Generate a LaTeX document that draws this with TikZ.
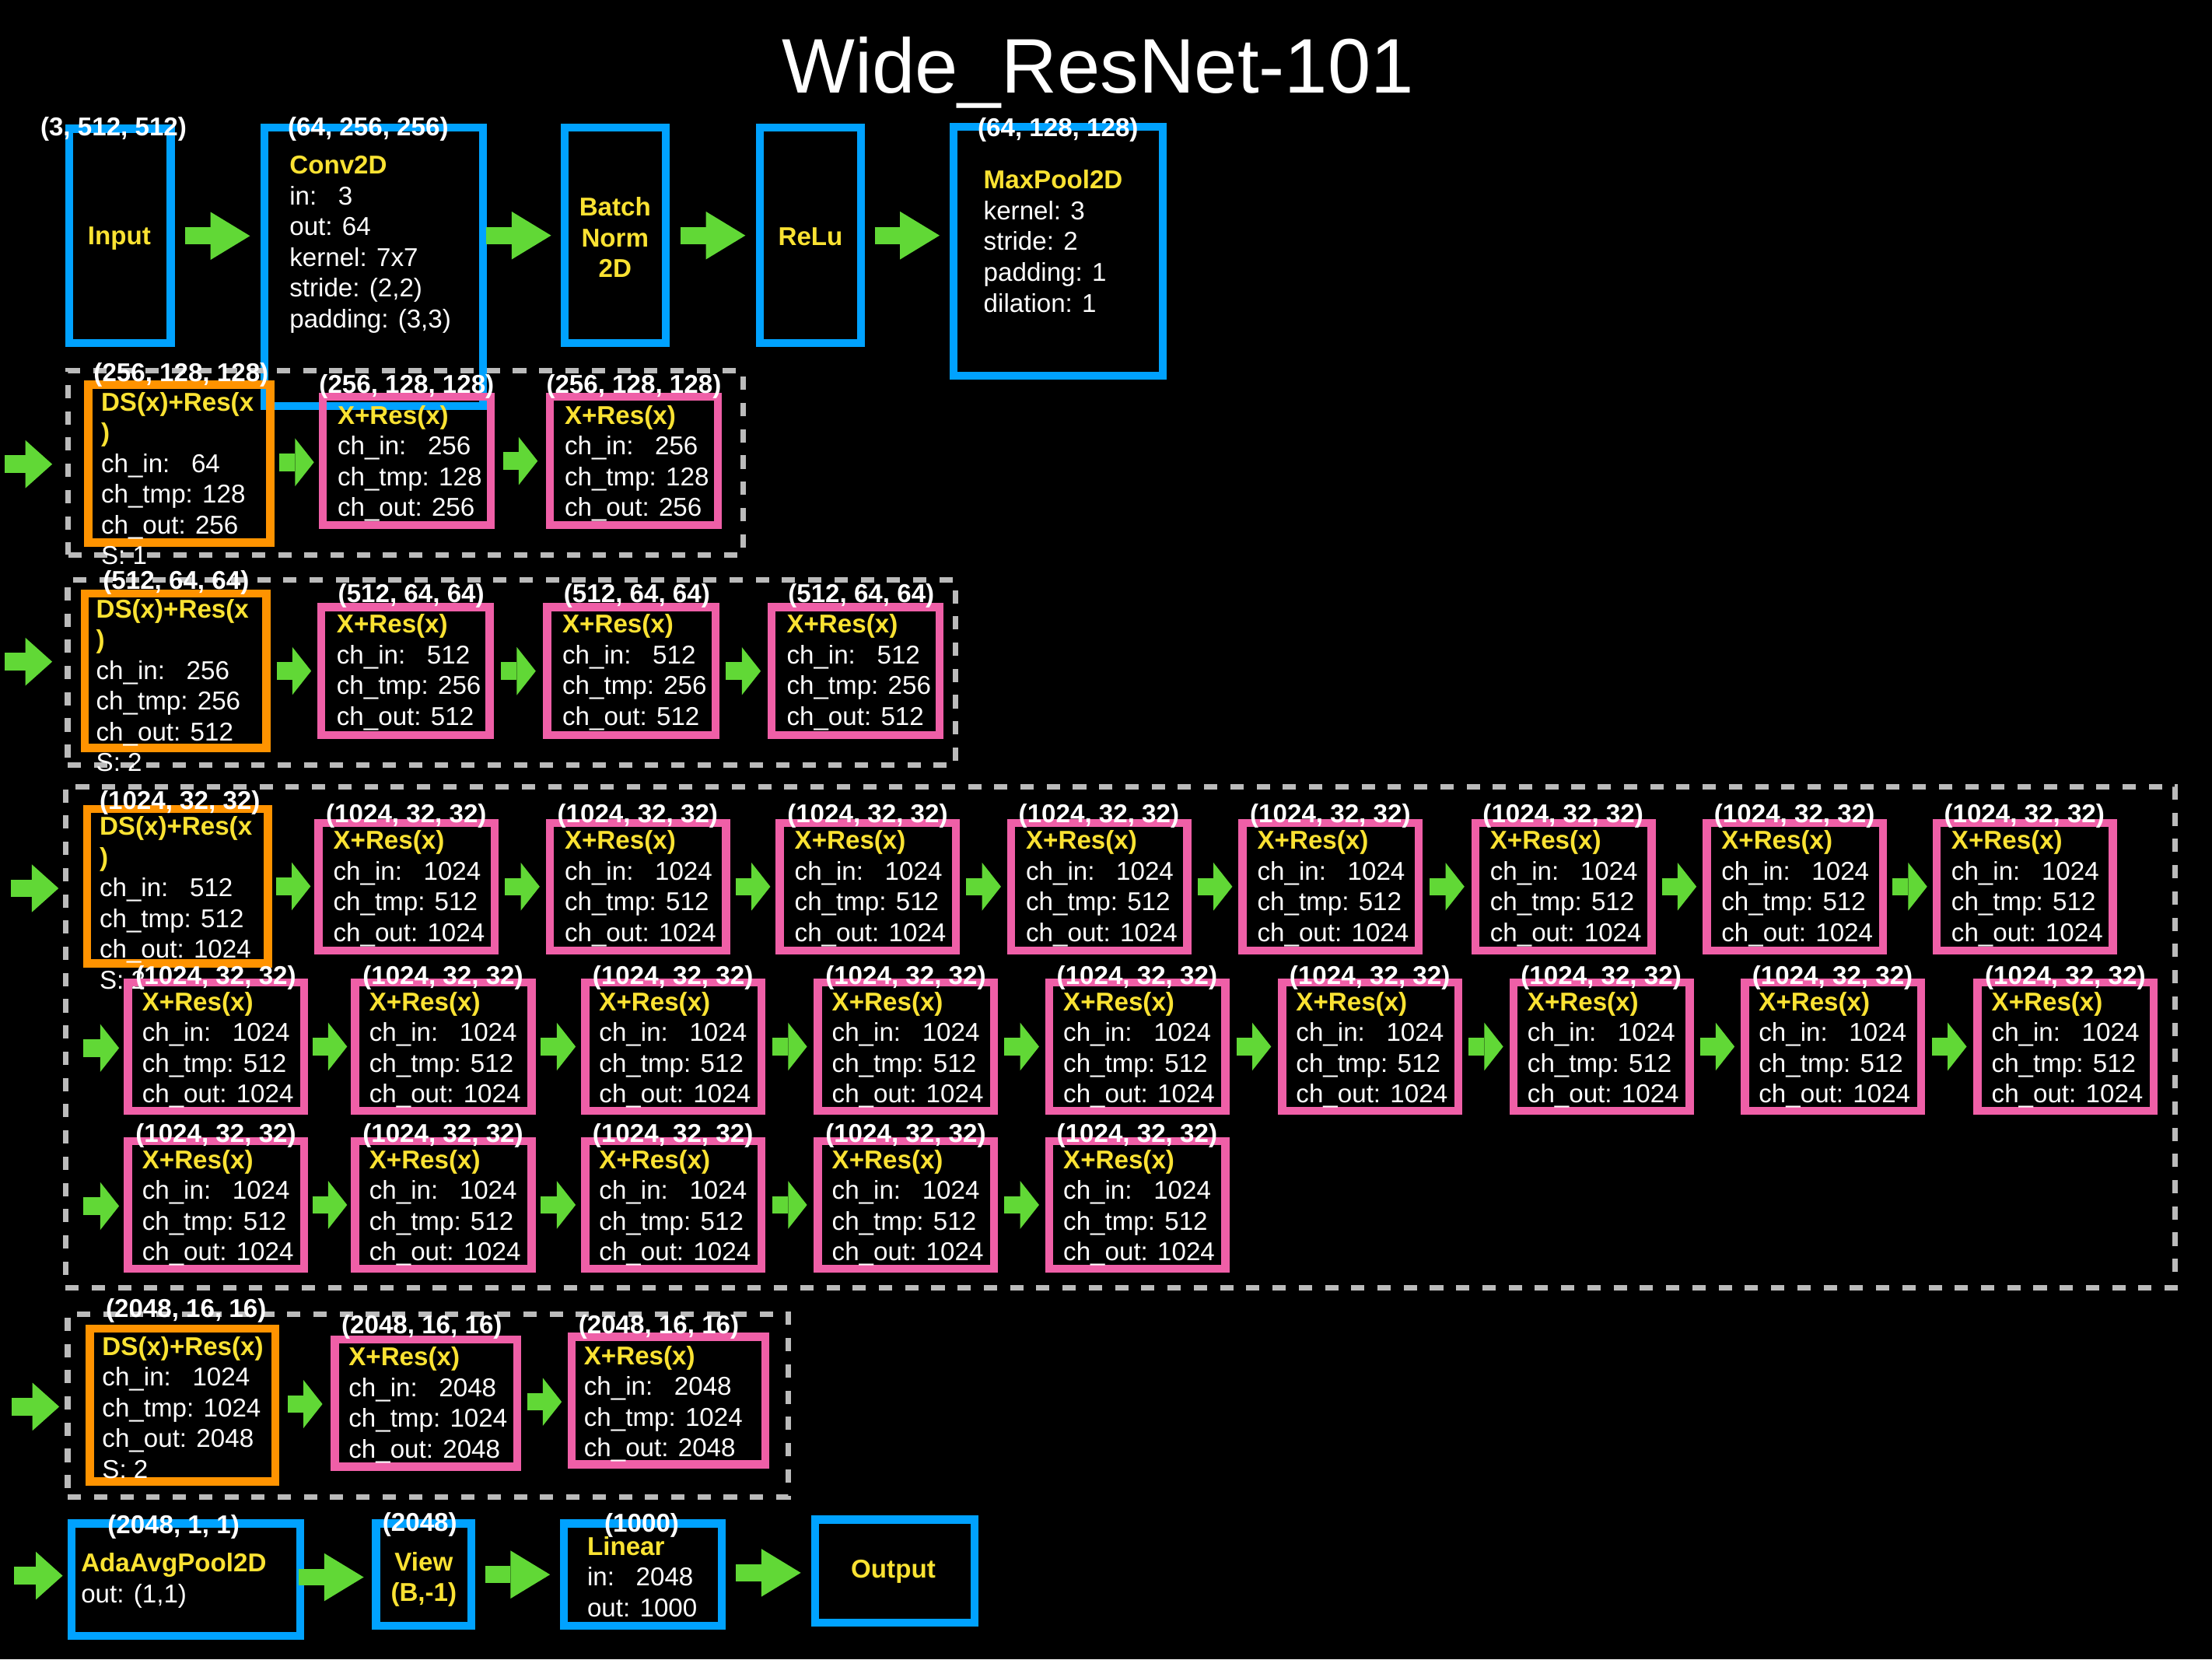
\documentclass[tikz,border=0pt]{standalone}
\usepackage{fontspec}
\setmainfont{Liberation Sans}
\usetikzlibrary{arrows.meta,calc,fit}

\definecolor{boxblue}{HTML}{00A2FF}
\definecolor{respink}{HTML}{EF5FA7}
\definecolor{dsorange}{HTML}{FF9300}
\definecolor{headyellow}{HTML}{FAE232}
\definecolor{flowgreen}{HTML}{61D836}
\definecolor{framegray}{HTML}{BBBBBB}

\newcommand{\yhead}[1]{\textcolor{headyellow}{\bfseries #1}}

\tikzset{
  blk/.style={draw=boxblue, line width=1.4mm, inner sep=0pt},
  resbox/.style={draw=respink, line width=1.45mm, inner sep=0pt},
  dsbox/.style={draw=dsorange, line width=1.45mm, inner sep=0pt},
  stageframe/.style={draw=framegray, line width=1mm, dash pattern=on 2.35mm off 2.3mm, inner sep=0pt},
  body/.style={text=white, font=\fontsize{13}{15.5}\selectfont, inner sep=0pt,
    align=left, anchor=north west, yshift=-0.75mm, execute at begin node=\strut},
  bodyc/.style={body, align=center, anchor=north, text=headyellow,
    font=\fontsize{13}{15.5}\selectfont\bfseries},
  shp/.style={text=white, font=\fontsize{13}{15.5}\selectfont\bfseries, inner sep=0pt, anchor=base},
  opname/.style={shp, text=headyellow},
  bigarrow/.style={flowgreen, line width=3mm, -{Triangle[length=7mm, width=8.5mm, line width=0pt]}},
  smallarrow/.style={flowgreen, line width=3.1mm, -{Triangle[length=3.35mm, width=8.5mm, line width=0pt]}},
  leftarrow/.style={flowgreen, line width=3.1mm, -{Triangle[length=4.75mm, width=8.5mm, line width=0pt]}}
}

\begin{document}
\begin{tikzpicture}[x=0.25mm, y=-0.25mm]
\useasboundingbox (0,0) rectangle (1568,1176);
\fill[black] (0,0) rectangle (1568,1176);
\node[text=white, font=\fontsize{39}{44}\selectfont, inner sep=0pt, anchor=base] (title) at (778.3,66) {Wide\_ResNet-101};

% stem
\node[blk, fit={(49.2,91.2) (121,243.2)}] (in) {};
\node[blk, fit={(187.4,90.6) (342.2,288)}] (conv) {};
\node[blk, fit={(400.1,90.6) (471.9,243.2)}] (bn) {};
\node[blk, fit={(538.8,90.6) (610.2,243.2)}] (relu) {};
\node[blk, fit={(675.8,89.7) (824.2,266.2)}] (pool) {};
\node[shp] at (80.5,96) {(3, 512, 512)};
\node[opname] at (84.6,173.5) {Input};
\node[shp] at (261,96) {(64, 256, 256)};
\node[body] at (205,107.3) {\yhead{Conv2D}\\in:\ \ \ 3\\out: 64\\kernel: 7x7\\stride: (2,2)\\padding: (3,3)};
\node[bodyc] at (436,136.6) {Batch\\Norm\\2D};
\node[opname] at (574.5,174) {ReLu};
\node[shp] at (750,96.9) {(64, 128, 128)};
\node[body] at (697,117.4) {\yhead{MaxPool2D}\\kernel: 3\\stride: 2\\padding: 1\\dilation: 1};

% dashed stage frames
\node[stageframe, fit={(48.3,262.7) (526.7,393.2)}] (stage1) {};
\node[stageframe, fit={(48,411) (677.3,542.3)}] (stage2) {};
\node[stageframe, fit={(46.4,557.5) (1541.9,912.7)}] (stage3) {};
\node[stageframe, fit={(48,931.4) (558.6,1061)}] (stage4) {};

% stage 1
\node[dsbox, fit={(62.6,272.6) (191.7,384.5)}] (ds1) {};
\node[shp] at (128.4,270.2) {(256, 128, 128)};
\node[body] at (71.4,274.6) {\yhead{DS(x)+Res(x}\\\yhead{)}\\ch\_in:\ \ \ 64\\ch\_tmp: 128\\ch\_out: 256\\S: 1};
\foreach \x [count=\i] in {226,387} {
  \node[resbox, fit={(\x+2.8,281.3) (\x+121.8,372.2)}] (p\i) {};
  \node[shp] at (\x+62.3,278.5) {(256, 128, 128)};
  \node[body] at (\x+13,284) {\yhead{X+Res(x)}\\ch\_in:\ \ \ 256\\ch\_tmp: 128\\ch\_out: 256};
}

% stage 2
\node[dsbox, fit={(60.1,420.7) (188.8,530.2)}] (ds2) {};
\node[shp] at (124.8,417.9) {(512, 64, 64)};
\node[body] at (67.9,421.4) {\yhead{DS(x)+Res(x}\\\yhead{)}\\ch\_in:\ \ \ 256\\ch\_tmp: 256\\ch\_out: 512\\S: 2};
\foreach \x [count=\i] in {225,385,544} {
  \node[resbox, fit={(\x+2.8,430.3) (\x+122.1,521)}] (q\i) {};
  \node[shp] at (\x+66.5,426.8) {(512, 64, 64)};
  \node[body] at (\x+13.4,432.2) {\yhead{X+Res(x)}\\ch\_in:\ \ \ 512\\ch\_tmp: 256\\ch\_out: 512};
}

% stage 3
\node[dsbox, fit={(61.8,573.3) (189.9,682.7)}] (ds3) {};
\node[shp] at (127.5,573.5) {(1024, 32, 32)};
\node[body] at (70.3,575.5) {\yhead{DS(x)+Res(x}\\\yhead{)}\\ch\_in:\ \ \ 512\\ch\_tmp: 512\\ch\_out: 1024\\S: 2};
\foreach \x [count=\i] in {223,387,550,714,878,1043,1207,1370} {
  \node[resbox, fit={(\x+2.8,583.2) (\x+127.7,673.6)}] (a\i) {};
  \node[shp] at (\x+65,582.8) {(1024, 32, 32)};
  \node[body] at (\x+13,585.4) {\yhead{X+Res(x)}\\ch\_in:\ \ \ 1024\\ch\_tmp: 512\\ch\_out: 1024};
}
\foreach \x [count=\i] in {88,249,412,577,741,906,1070,1234,1399} {
  \node[resbox, fit={(\x+2.8,696.4) (\x+127.7,787.2)}] (b\i) {};
  \node[shp] at (\x+65,697.6) {(1024, 32, 32)};
  \node[body] at (\x+12.5,699.8) {\yhead{X+Res(x)}\\ch\_in:\ \ \ 1024\\ch\_tmp: 512\\ch\_out: 1024};
}
\foreach \x [count=\i] in {88,249,412,577,741} {
  \node[resbox, fit={(\x+2.8,808.8) (\x+127.7,899.2)}] (c\i) {};
  \node[shp] at (\x+65,809.8) {(1024, 32, 32)};
  \node[body] at (\x+12.5,811.8) {\yhead{X+Res(x)}\\ch\_in:\ \ \ 1024\\ch\_tmp: 512\\ch\_out: 1024};
}

% stage 4
\node[dsbox, fit={(63.6,941.8) (195.2,1049.9)}] (ds4) {};
\node[shp] at (131.9,933.6) {(2048, 16, 16)};
\node[body] at (72.2,944) {\yhead{DS(x)+Res(x)}\\ch\_in:\ \ \ 1024\\ch\_tmp: 1024\\ch\_out: 2048\\S: 2};
\node[resbox, fit={(237.3,949.3) (366.6,1039.6)}] (r1) {};
\node[shp] at (299,945.5) {(2048, 16, 16)};
\node[body] at (246.9,951.5) {\yhead{X+Res(x)}\\ch\_in:\ \ \ 2048\\ch\_tmp: 1024\\ch\_out: 2048};
\node[resbox, fit={(405.1,947.4) (542.6,1038)}] (r2) {};
\node[shp] at (467,945.5) {(2048, 16, 16)};
\node[body] at (413.7,950.6) {\yhead{X+Res(x)}\\ch\_in:\ \ \ 2048\\ch\_tmp: 1024\\ch\_out: 2048};

% head
\node[blk, fit={(50.8,1079.8) (213,1159.6)}] (avg) {};
\node[blk, fit={(266.6,1079.8) (334.2,1152.2)}] (view) {};
\node[blk, fit={(399.6,1079.8) (511.5,1152.2)}] (fc) {};
\node[blk, fit={(577.8,1077) (690.7,1149.9)}] (out) {};
\node[shp] at (123,1087.1) {(2048, 1, 1)};
\node[body] at (57.2,1097.6) {\yhead{AdaAvgPool2D}\\out: (1,1)};
\node[shp] at (297.6,1085.2) {(2048)};
\node[bodyc] at (300.4,1096.8) {View\\(B,-1)};
\node[shp] at (454.9,1086) {(1000)};
\node[body] at (416,1085.7) {\yhead{Linear}\\in:\ \ \ 2048\\out: 1000};
\node[opname] at (633.2,1118.3) {Output};

% arrows
\draw[bigarrow] ($(in.east)!.5!(conv.west |- in.east)+(-23,0)$) -- ++(46,0);
\draw[bigarrow] ($(conv.east |- bn.west)!.5!(bn.west)+(-26.5,0)$) -- ++(46,0);
\draw[bigarrow] ($(bn.east)!.5!(relu.west)+(-23,0)$) -- ++(46,0);
\draw[bigarrow] ($(relu.east)!.5!(pool.west |- relu.east)+(-23,0)$) -- ++(46,0);

\coordinate (go1) at (3.5,329);
\coordinate (go2) at (3.5,469);
\coordinate (go3) at (7.7,629.6);
\coordinate (go3b) at (59,742.8);
\coordinate (go3c) at (59,854.8);
\coordinate (go4) at (8.2,997);
\coordinate (go5) at (10,1116.8);
\draw[leftarrow] (go1) -- ++(33.5,0);
\draw[leftarrow] (go2) -- ++(33.5,0);
\draw[leftarrow] (go3) -- ++(33.8,0);
\draw[smallarrow] (go3b) -- ++(25.4,0);
\draw[smallarrow] (go3c) -- ++(25.4,0);
\draw[leftarrow] (go4) -- ++(33.8,0);
\draw[leftarrow] (go5) -- ++(34.4,0);

\draw[smallarrow] ($(ds1.east)!.5!(p1.west)+(-12.3,0)$) -- ++(24.6,0);
\draw[smallarrow] ($(p1.east)!.5!(p2.west)+(-12.3,0)$) -- ++(24.6,0);
\draw[smallarrow] ($(ds2.east)!.5!(q1.west)+(-12.3,0)$) -- ++(24.6,0);
\foreach \i [count=\j from 2] in {1,2}
  \draw[smallarrow] ($(q\i.east)!.5!(q\j.west)+(-12.3,0)$) -- ++(24.6,0);
\draw[smallarrow] ($(ds3.east)!.5!(a1.west)+(-12.3,0)$) -- ++(24.6,0);
\foreach \i [count=\j from 2] in {1,...,7}
  \draw[smallarrow] ($(a\i.east)!.5!(a\j.west)+(-12.3,0)$) -- ++(24.6,0);
\foreach \i [count=\j from 2] in {1,...,8}
  \draw[smallarrow] ($(b\i.east)!.5!(b\j.west)+(-12.3,0)$) -- ++(24.6,0);
\foreach \i [count=\j from 2] in {1,...,4}
  \draw[smallarrow] ($(c\i.east)!.5!(c\j.west)+(-12.3,0)$) -- ++(24.6,0);
\draw[smallarrow] ($(ds4.east)!.5!(r1.west)+(-12.3,0)$) -- ++(24.6,0);
\draw[smallarrow] ($(r1.east)!.5!(r2.west)+(-12.3,0)$) -- ++(24.6,0);

\draw[bigarrow] ($(avg.east)!.5!(view.west)+(-28,0)$) -- ++(46,0);
\draw[bigarrow] ($(view.east)!.5!(fc.west)+(-23,0)$) -- ++(46,0);
\draw[bigarrow] ($(fc.east)!.5!(out.west)+(-23,0)$) -- ++(46,0);
\end{tikzpicture}
\end{document}
